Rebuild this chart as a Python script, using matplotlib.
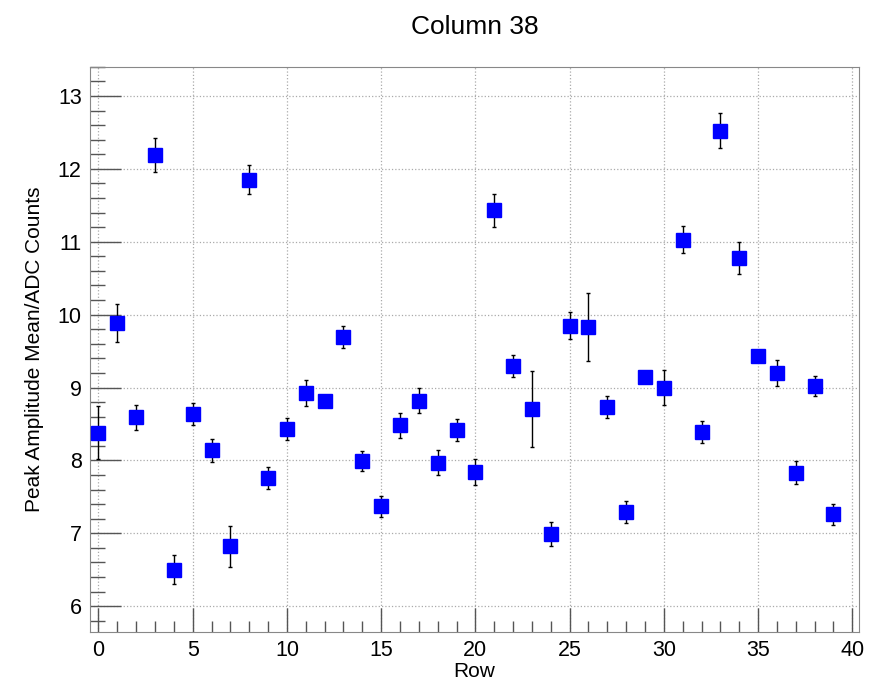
import matplotlib.pyplot as plt
import numpy as np
from matplotlib.ticker import MultipleLocator

plt.rcParams['font.family'] = ['Liberation Sans', 'DejaVu Sans']

rows = np.arange(40)
peak_mean = [8.38, 9.89, 8.59, 12.19, 6.50, 8.64, 8.14, 6.82, 11.85, 7.76,
             8.43, 8.92, 8.82, 9.69, 7.99, 7.37, 8.48, 8.82, 7.97, 8.42,
             7.84, 11.43, 9.30, 8.70, 6.99, 9.85, 9.83, 8.73, 7.29, 9.15,
             9.00, 11.03, 8.39, 12.52, 10.78, 9.43, 9.20, 7.83, 9.02, 7.26]
peak_err = [0.36, 0.26, 0.17, 0.23, 0.20, 0.15, 0.16, 0.28, 0.20, 0.15,
            0.15, 0.18, 0.05, 0.15, 0.14, 0.14, 0.17, 0.17, 0.17, 0.15,
            0.18, 0.23, 0.15, 0.52, 0.17, 0.19, 0.47, 0.15, 0.15, 0.06,
            0.24, 0.18, 0.15, 0.24, 0.22, 0.05, 0.18, 0.16, 0.14, 0.14]

fig = plt.figure(figsize=(8.72, 6.82), dpi=100)
ax = fig.add_axes([0.1032, 0.0738, 0.8818, 0.8282])

ax.errorbar(rows, peak_mean, yerr=peak_err, fmt='s', color='#0000ff',
            markersize=10, ecolor='black', elinewidth=1.0, capsize=1.5,
            capthick=1.0, zorder=3)

ax.set_xlim(-0.45, 40.35)
ax.set_ylim(5.65, 13.4)
ax.xaxis.set_major_locator(MultipleLocator(5))
ax.xaxis.set_minor_locator(MultipleLocator(1))
ax.yaxis.set_major_locator(MultipleLocator(1))
ax.yaxis.set_minor_locator(MultipleLocator(0.2))
ax.tick_params(which='both', direction='in', color='#555555', labelsize=15.5)
ax.tick_params(axis='y', which='major', length=22, width=1, pad=6)
ax.tick_params(axis='y', which='minor', length=11, width=1)
ax.tick_params(axis='x', which='major', length=17, width=1, pad=6)
ax.tick_params(axis='x', which='minor', length=8, width=1)
ax.grid(True, which='major', linestyle=':', color='#aaaaaa', linewidth=0.9)
for s in ax.spines.values():
    s.set_color('#888888')

ax.set_title('Column 38', fontsize=19, pad=24)
ax.set_xlabel('Row', fontsize=15, labelpad=1)
ax.set_ylabel('Peak Amplitude Mean/ADC Counts', fontsize=15, labelpad=10)

fig.savefig('out.png', dpi=100)
